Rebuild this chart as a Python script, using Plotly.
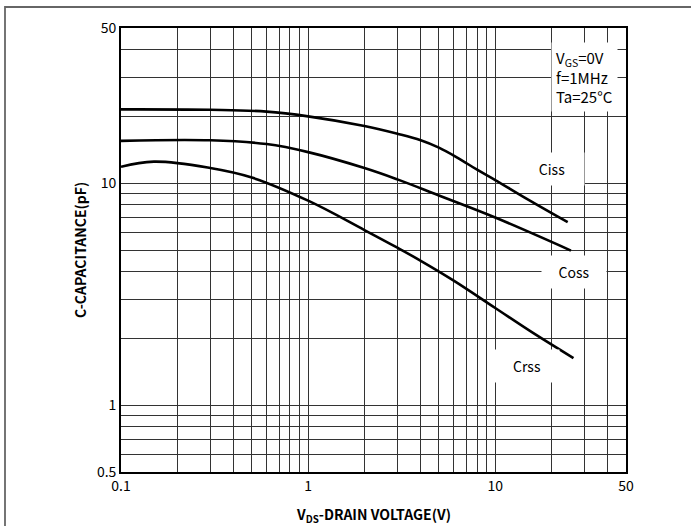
import plotly.graph_objects as go
import math

# ---- data ----
x_ciss = [0.1, 0.3, 0.6, 1.0, 2.0, 3.0, 4.0, 5.0, 6.3, 8.0, 10, 15, 24.4]
y_ciss = [21.5, 21.4, 21.0, 20.0, 18.1, 16.7, 15.6, 14.45, 13.0, 11.5, 10.33, 8.43, 6.67]

x_coss = [0.1, 0.3, 0.6, 1.0, 2.0, 3.0, 5.0, 10, 25.4]
y_coss = [15.5, 15.6, 15.0, 13.8, 11.7, 10.4, 8.8, 7.0, 4.97]

x_crss = [0.1, 0.15, 0.3, 0.5, 1.0, 2.0, 3.0, 4.0, 6.0, 10, 16, 26.2]
y_crss = [11.86, 12.5, 11.7, 10.6, 8.34, 6.15, 5.12, 4.47, 3.64, 2.74, 2.11, 1.63]

x_grid = [0.1, 0.2, 0.3, 0.4, 0.5, 0.6, 0.7, 0.8, 0.9, 1, 2, 3, 4, 5, 6, 7, 8, 9, 10, 20, 30, 40, 50]
x_labels = ["0.1", "", "", "", "", "", "", "", "", "1", "", "", "", "", "", "", "", "", "10", "", "", "", "50"]
y_grid = [0.5, 0.6, 0.7, 0.8, 0.9, 1, 2, 3, 4, 5, 6, 7, 8, 9, 10, 20, 30, 40, 50]
y_labels = ["0.5", "", "", "", "", "1", "", "", "", "", "", "", "", "", "10", "", "", "", "50"]

curve_names = ["Ciss", "Coss", "Crss"]
label_pos = [(20, 11.6), (26.5, 3.98), (14.7, 1.50)]
cond_text = "V<sub>GS</sub>=0V<br>f=1MHz<br>Ta=25°C"
cond_pos = (19.75, 30.0)

FONT = "Noto Sans CJK SC"

fig = go.Figure()
for xs, ys, nm in zip([x_ciss, x_coss, x_crss], [y_ciss, y_coss, y_crss], curve_names):
    fig.add_trace(go.Scatter(x=xs, y=ys, mode="lines", name=nm,
                             line=dict(color="black", width=2.6, shape="spline", smoothing=1.1),
                             showlegend=False, hoverinfo="skip"))

for nm, (lx, ly) in zip(curve_names, label_pos):
    fig.add_annotation(x=math.log10(lx), y=math.log10(ly), text=nm, showarrow=False,
                       font=dict(family=FONT, size=14, color="black"),
                       bgcolor="white", borderpad=6, width=52)

fig.add_annotation(x=math.log10(cond_pos[0]), y=math.log10(cond_pos[1]), text=cond_text,
                   showarrow=False, xanchor="left", yanchor="middle", align="left",
                   font=dict(family=FONT, size=15, color="black"),
                   bgcolor="white", borderpad=4)

# axis titles
fig.add_annotation(xref="paper", yref="paper", x=-0.0812, y=0.5, xanchor="center", yanchor="middle",
                   text="<b>C-CAPACITANCE(pF)</b>", textangle=-90, showarrow=False,
                   font=dict(family=FONT, size=14, color="black"))
fig.add_annotation(xref="paper", yref="paper", x=0.5, y=-0.0968, xanchor="center", yanchor="middle",
                   text="<b>V<sub>DS</sub>-DRAIN VOLTAGE(V)</b>", showarrow=False,
                   font=dict(family=FONT, size=14, color="black"))

# outer frame (extends past the right and bottom edges)
fig.add_shape(type="rect", xref="paper", yref="paper",
              x0=-0.2297, x1=1.25, y0=-0.2, y1=1.0473,
              line=dict(color="#666666", width=1.8), fillcolor="rgba(0,0,0,0)", layer="below")

axis_common = dict(type="log", showgrid=True, gridcolor="#333333", gridwidth=1,
                   showline=True, linecolor="black", linewidth=1.6, mirror=True,
                   ticks="", zeroline=False,
                   tickfont=dict(family=FONT, size=14, color="black"))

fig.update_xaxes(range=[-1, math.log10(50)], tickmode="array", tickvals=x_grid, ticktext=x_labels,
                 **axis_common)
fig.update_yaxes(range=[math.log10(0.5), math.log10(50)], tickmode="array", tickvals=y_grid,
                 ticktext=y_labels, **axis_common)

fig.update_layout(width=691, height=526, margin=dict(l=121, r=65, t=28, b=54),
                  plot_bgcolor="white", paper_bgcolor="white")

fig.write_html("out.html", config={"displayModeBar": False},
               post_script="document.body.style.margin='0';document.body.style.overflow='hidden';")
